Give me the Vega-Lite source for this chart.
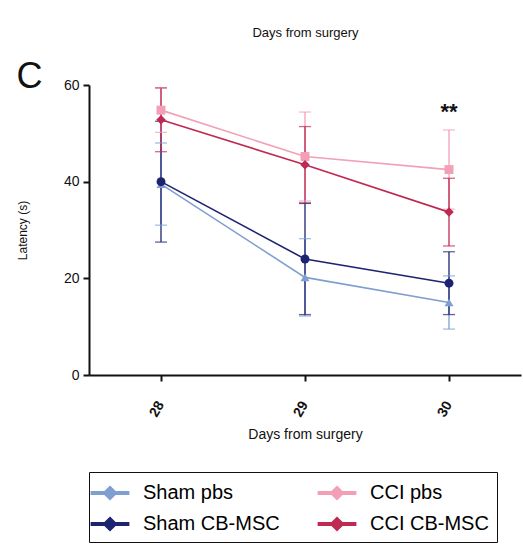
{
  "$schema": "https://vega.github.io/schema/vega-lite/v6.json",
  "background": "white",
  "padding": {"left": 16, "top": 0, "right": 3, "bottom": 0},
  "spacing": 20,
  "config": {
    "font": "Liberation Sans",
    "view": {"stroke": null},
    "axis": {"labelFont": "Liberation Sans", "titleFont": "Liberation Sans", "labelColor": "#111", "titleColor": "#111", "titleFontWeight": "normal", "domainColor": "#111", "tickColor": "#111"},
    "legend": {"labelFont": "Liberation Sans"}
  },
  "datasets": {
    "latency": [
      {"group": "Sham pbs", "day": "28", "mean": 39.5, "lo": 31.0, "hi": 48.0},
      {"group": "Sham pbs", "day": "29", "mean": 20.2, "lo": 12.2, "hi": 28.2},
      {"group": "Sham pbs", "day": "30", "mean": 15.0, "lo": 9.5, "hi": 20.5},
      {"group": "Sham CB-MSC", "day": "28", "mean": 40.0, "lo": 27.5, "hi": 52.5},
      {"group": "Sham CB-MSC", "day": "29", "mean": 24.0, "lo": 12.5, "hi": 35.5},
      {"group": "Sham CB-MSC", "day": "30", "mean": 19.0, "lo": 12.5, "hi": 25.5},
      {"group": "CCI pbs", "day": "28", "mean": 54.8, "lo": 50.2, "hi": 59.4},
      {"group": "CCI pbs", "day": "29", "mean": 45.2, "lo": 36.0, "hi": 54.4},
      {"group": "CCI pbs", "day": "30", "mean": 42.5, "lo": 34.3, "hi": 50.7},
      {"group": "CCI CB-MSC", "day": "28", "mean": 52.8, "lo": 46.2, "hi": 59.4},
      {"group": "CCI CB-MSC", "day": "29", "mean": 43.5, "lo": 35.6, "hi": 51.4},
      {"group": "CCI CB-MSC", "day": "30", "mean": 33.7, "lo": 26.7, "hi": 40.7}
    ],
    "annot": [{"day": "30", "y": 54.5, "label": "**"}]
  },
  "vconcat": [
    {
      "width": 432,
      "height": 10,
      "data": {"name": "annot"},
      "mark": {"type": "point", "opacity": 0},
      "encoding": {
        "x": {"field": "day", "type": "ordinal", "scale": {"domain": ["28", "29", "30"]},
          "axis": {"title": "Days from surgery", "domain": false, "ticks": false, "labels": false, "titleFontSize": 13, "titlePadding": 16}}
      }
    },
    {
      "width": 432,
      "height": 290,
      "title": {"text": "C", "anchor": "start", "frame": "bounds", "fontSize": 36, "fontWeight": "normal", "color": "#111", "offset": -18},
      "data": {"name": "latency"},
      "encoding": {
        "x": {"field": "day", "type": "ordinal",
          "axis": {"title": "Days from surgery", "titleFontSize": 14, "titlePadding": 9, "labelAngle": -60, "labelFontSize": 14, "labelFontWeight": "bold", "domainWidth": 2, "tickWidth": 2, "tickSize": 6, "labelPadding": 21}},
        "color": {"field": "group", "type": "nominal",
          "scale": {"domain": ["Sham pbs", "CCI pbs", "Sham CB-MSC", "CCI CB-MSC"], "range": ["#7f9fd0", "#f3a0b6", "#1c2472", "#bf2a53"]},
          "legend": {"title": null, "orient": "bottom", "direction": "horizontal", "columns": 2, "labelFontSize": 20, "labelOffset": 20, "columnPadding": 35, "rowPadding": 8, "strokeColor": "#111", "padding": 8, "offset": 30,
            "symbolType": "M-1.55,-0.1H1.55V0.1H-1.55Z M0,-0.54L0.54,0L0,0.54L-0.54,0Z", "symbolSize": 576, "symbolOpacity": 1, "symbolStrokeWidth": 0}}
      },
      "layer": [
        {
          "mark": {"type": "rule", "strokeWidth": 1.3},
          "encoding": {
            "y": {"field": "lo", "type": "quantitative"},
            "y2": {"field": "hi"}
          }
        },
        {
          "mark": {"type": "tick", "orient": "horizontal", "size": 12, "thickness": 1.3},
          "encoding": {"y": {"field": "lo", "type": "quantitative"}}
        },
        {
          "mark": {"type": "tick", "orient": "horizontal", "size": 12, "thickness": 1.3},
          "encoding": {"y": {"field": "hi", "type": "quantitative"}}
        },
        {
          "mark": {"type": "line"},
          "encoding": {
            "y": {"field": "mean", "type": "quantitative", "scale": {"domain": [0, 60]},
              "axis": {"title": "Latency (s)", "values": [0, 20, 40, 60], "grid": false, "labelFontSize": 14, "titleFontSize": 12, "domainWidth": 2, "tickWidth": 2, "tickSize": 6, "labelPadding": 4, "titlePadding": 34}},
            "strokeWidth": {"field": "group", "type": "nominal", "scale": {"domain": ["Sham pbs", "CCI pbs", "Sham CB-MSC", "CCI CB-MSC"], "range": [1.6, 1.6, 3, 3]}, "legend": null}
          }
        },
        {
          "transform": [{"filter": "datum.group == 'Sham pbs'"}],
          "mark": {"type": "point", "filled": true, "size": 80, "opacity": 1, "shape": "triangle-up"},
          "encoding": {"y": {"field": "mean", "type": "quantitative"}}
        },
        {
          "transform": [{"filter": "datum.group == 'CCI pbs'"}],
          "mark": {"type": "point", "filled": true, "size": 80, "opacity": 1, "shape": "square"},
          "encoding": {"y": {"field": "mean", "type": "quantitative"}}
        },
        {
          "transform": [{"filter": "datum.group == 'Sham CB-MSC'"}],
          "mark": {"type": "point", "filled": true, "size": 80, "opacity": 1, "shape": "circle"},
          "encoding": {"y": {"field": "mean", "type": "quantitative"}}
        },
        {
          "transform": [{"filter": "datum.group == 'CCI CB-MSC'"}],
          "mark": {"type": "point", "filled": true, "size": 90, "opacity": 1, "shape": "diamond"},
          "encoding": {"y": {"field": "mean", "type": "quantitative"}}
        },
        {
          "data": {"name": "annot"},
          "mark": {"type": "text", "fontSize": 22, "fontWeight": "bold", "color": "#111", "baseline": "middle"},
          "encoding": {
            "x": {"field": "day", "type": "ordinal"},
            "y": {"field": "y", "type": "quantitative"},
            "text": {"field": "label", "type": "nominal"},
            "color": {"value": "#111"}
          }
        }
      ]
    }
  ]
}
